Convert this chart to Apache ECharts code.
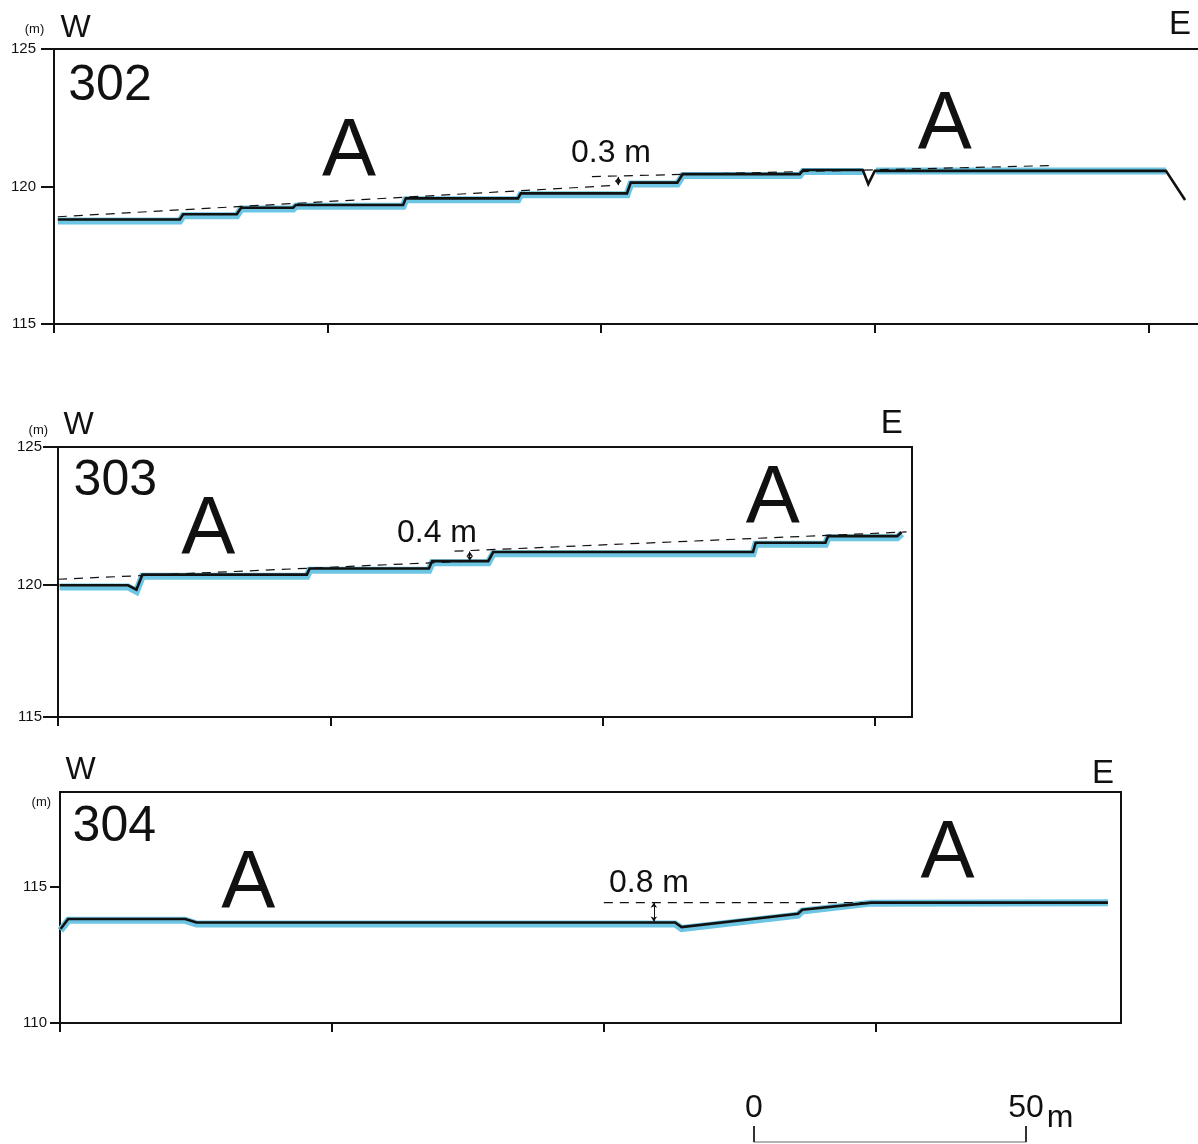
<!DOCTYPE html>
<html><head><meta charset="utf-8">
<script src="https://cdn.jsdelivr.net/npm/echarts@6/dist/echarts.min.js"></script>
<style>html,body{margin:0;padding:0;background:#fff}#c{width:1198px;height:1144px}</style>
</head><body><div id="c"></div>
<script>
// ---------- Profile 302 (distance m, elevation m) ----------
const p302_x      = [0.7, 23.0, 23.6, 33.4, 34.2, 43.7, 44.2, 63.8, 64.3, 84.8, 85.3, 104.7, 105.4, 113.9, 114.9, 136.3, 136.9, 147.8, 148.8, 150.0, 203.2, 206.7];
const p302_y      = [118.80, 118.80, 118.99, 118.99, 119.23, 119.23, 119.33, 119.33, 119.57, 119.57, 119.75, 119.75, 120.14, 120.14, 120.45, 120.45, 120.60, 120.60, 120.09, 120.57, 120.57, 119.51];
const p302_cyan_x = [0.7, 23.0, 23.6, 33.4, 34.2, 43.7, 44.2, 63.8, 64.3, 84.8, 85.3, 104.7, 105.4, 113.9, 114.9, 136.3, 136.9, 147.8, 148.8, 150.2, 203.2];
const p302_cyan_y = [118.75, 118.75, 118.94, 118.94, 119.18, 119.18, 119.28, 119.28, 119.52, 119.52, 119.70, 119.70, 120.09, 120.09, 120.40, 120.40, 120.55, 120.55, null, 120.56, 120.56];
const p302_dashLow_x = [0.7, 102.5];
const p302_dashLow_y = [118.90, 120.04];
const p302_dashUp_x  = [98.3, 182.0];
const p302_dashUp_y  = [120.36, 120.76];
const p302_arrow     = [103.1, 120.05, 120.35];

// ---------- Profile 303 ----------
const p303_x      = [0.3, 12.85, 14.4, 15.5, 45.7, 46.2, 68.1, 68.7, 79.0, 79.9, 127.6, 128.1, 140.9, 141.4, 154.1, 154.9];
const p303_y      = [119.97, 119.97, 119.81, 120.36, 120.36, 120.58, 120.58, 120.85, 120.85, 121.18, 121.18, 121.52, 121.52, 121.76, 121.76, 121.91];
const p303_cyan_y = [119.91, 119.91, 119.75, 120.30, 120.30, 120.52, 120.52, 120.79, 120.79, 121.12, 121.12, 121.46, 121.46, 121.70, 121.70, 121.85];
const p303_dashLow_x = [0.0, 75.6];
const p303_dashLow_y = [120.19, 120.85];
const p303_dashUp_x  = [72.8, 155.8];
const p303_dashUp_y  = [121.21, 121.91];
const p303_arrow     = [75.6, 120.86, 121.20];

// ---------- Profile 304 ----------
const p304_x      = [0.1, 1.5, 23.0, 25.1, 113.1, 114.3, 135.7, 136.5, 149.2, 192.7];
const p304_y      = [113.44, 113.81, 113.81, 113.68, 113.68, 113.51, 114.00, 114.15, 114.41, 114.41];
const p304_cyan_y = [113.39, 113.76, 113.76, 113.63, 113.63, 113.46, 113.95, 114.10, 114.39, 114.40];
const p304_dash_x = [100.0, 149.2];
const p304_dash_y = [114.41, 114.41];
const p304_arrow  = [109.2, 114.40, 113.72];

// ---------- Axes ----------
const yTicks302 = [115, 120, 125];
const yTicks303 = [115.18, 120, 125];   // bottom frame sits slightly above 115; labelled "115" in the source
const yTicks304 = [110, 115];
const xTicks302 = [0, 50, 100, 150, 200];
const xTicks303 = [0, 50, 100, 150];
const xTicks304 = [0, 50, 100, 150];
const scaleTicks = [0, 50];

const FONT = '"Liberation Sans", Arial, sans-serif';
const CYAN = '#6cc6e3';
const INK = '#111';

function pairs(xs, ys) { return xs.map((x, i) => [x, ys[i] === null ? '-' : ys[i]]); }

function profileSeries(g, bx, by, cx, cy, dashes, arrow) {
  const s = [];
  s.push({type:'line', xAxisIndex:g, yAxisIndex:g, data:pairs(cx, cy), showSymbol:false, symbol:'none',
          connectNulls:false, lineStyle:{color:CYAN, width:7, join:'miter'}, z:2, silent:true});
  s.push({type:'line', xAxisIndex:g, yAxisIndex:g, data:pairs(bx, by), showSymbol:false, symbol:'none',
          lineStyle:{color:INK, width:2.6, join:'miter'}, z:3, silent:true});
  dashes.forEach(d => s.push({type:'line', xAxisIndex:g, yAxisIndex:g, data:pairs(d[0], d[1]), showSymbol:false,
          symbol:'none', lineStyle:{color:INK, width:1.2, type:[9,7]}, z:4, silent:true}));
  s.push({type:'lines', coordinateSystem:'cartesian2d', xAxisIndex:g, yAxisIndex:g, symbol:['arrow','arrow'],
          symbolSize:5, lineStyle:{color:INK, width:1, opacity:1}, z:5, silent:true,
          data:[{coords:[[arrow[0], arrow[1]], [arrow[0], arrow[2]]]}]});
  return s;
}

function xAxisFor(g, max, ticks) {
  return {gridIndex:g, type:'value', min:0, max:max, interval:50,
    axisLine:{show:true, onZero:false, lineStyle:{color:INK, width:2}},
    axisTick:{show:true, length:9, customValues:ticks, lineStyle:{color:INK, width:2}},
    axisLabel:{show:false}, splitLine:{show:false}};
}
function yAxisFor(g, min, max, ticks, tickLen, margin) {
  return {gridIndex:g, type:'value', min:min, max:max, interval:5,
    axisLine:{show:true, onZero:false, lineStyle:{color:INK, width:2}},
    axisTick:{show:true, length:tickLen, customValues:ticks, lineStyle:{color:INK, width:2}},
    axisLabel:{show:true, customValues:ticks, fontSize:15, color:INK, margin:margin, fontFamily:FONT,
               formatter: v => String(Math.round(v / 5) * 5)},
    splitLine:{show:false}};
}

function txt(t, x, y, size) {
  return {type:'text', x:x, y:y, silent:true, z:10,
    style:{text:t, font:size + 'px ' + FONT, fill:INK, align:'center', verticalAlign:'middle'}};
}

const option = {
  animation:false,
  backgroundColor:'#fff',
  textStyle:{fontFamily:FONT},
  grid:[
    {left:54, top:49, width:1144, height:275, show:false, containLabel:false},
    {left:58, top:447, width:854, height:270, show:true, borderColor:INK, borderWidth:2, containLabel:false},
    {left:60, top:792, width:1061, height:231, show:true, borderColor:INK, borderWidth:2, containLabel:false},
    {left:754, top:1100, width:272, height:42, show:false, containLabel:false}
  ],
  xAxis:[
    xAxisFor(0, 209.06, xTicks302),
    xAxisFor(1, 156.8, xTicks303),
    xAxisFor(2, 195.1, xTicks304),
    {gridIndex:3, type:'value', min:0, max:50, interval:50,
      axisLine:{show:true, onZero:false, lineStyle:{color:'#9a9a9a', width:1.5}},
      axisTick:{show:true, inside:true, length:16, customValues:scaleTicks, lineStyle:{color:'#333', width:2}},
      axisLabel:{show:true, inside:true, customValues:scaleTicks, fontSize:32, color:INK, margin:18, fontFamily:FONT},
      splitLine:{show:false}},
    // top frame line of profile 302 (its right edge runs off the page)
    {gridIndex:0, type:'value', position:'top', min:0, max:209.06,
      axisLine:{show:true, onZero:false, lineStyle:{color:INK, width:2}},
      axisTick:{show:false}, axisLabel:{show:false}, splitLine:{show:false}}
  ],
  yAxis:[
    yAxisFor(0, 115, 125, yTicks302, 13, 18),
    yAxisFor(1, 115.18, 125, yTicks303, 15, 16),
    yAxisFor(2, 110, 118.46, yTicks304, 10, 13),
    {gridIndex:3, type:'value', show:false, min:0, max:1}
  ],
  series:[].concat(
    profileSeries(0, p302_x, p302_y, p302_cyan_x, p302_cyan_y,
      [[p302_dashLow_x, p302_dashLow_y], [p302_dashUp_x, p302_dashUp_y]], p302_arrow),
    profileSeries(1, p303_x, p303_y, p303_x, p303_cyan_y,
      [[p303_dashLow_x, p303_dashLow_y], [p303_dashUp_x, p303_dashUp_y]], p303_arrow),
    profileSeries(2, p304_x, p304_y, p304_x, p304_cyan_y,
      [[p304_dash_x, p304_dash_y]], p304_arrow)
  ),
  graphic:[
    // 302
    txt('(m)', 34.5, 29, 13), txt('W', 75.5, 28.5, 32), txt('E', 1180, 25, 33),
    txt('302', 110, 86, 50), txt('A', 349, 152.5, 81), txt('A', 944.7, 126, 81),
    txt('0.3 m', 611, 153.3, 32),
    // 303
    txt('(m)', 38.3, 430, 13), txt('W', 78.7, 424.7, 32), txt('E', 891.7, 424, 33),
    txt('303', 115.3, 481, 50), txt('A', 208.3, 531, 81), txt('A', 772.8, 499.2, 81),
    txt('0.4 m', 437, 532.8, 32),
    // 304
    txt('W', 80.5, 770.5, 32), txt('(m)', 41.3, 802, 13), txt('E', 1103, 774, 33),
    txt('304', 114.3, 827, 50), txt('A', 248.3, 885, 81), txt('A', 947.5, 854.5, 81),
    txt('0.8 m', 649, 883.3, 32),
    // scale bar unit
    txt('m', 1060, 1118, 32)
  ]
};

const chart = echarts.init(document.getElementById('c'), null, {renderer:'canvas'});
chart.setOption(option);
</script></body></html>
